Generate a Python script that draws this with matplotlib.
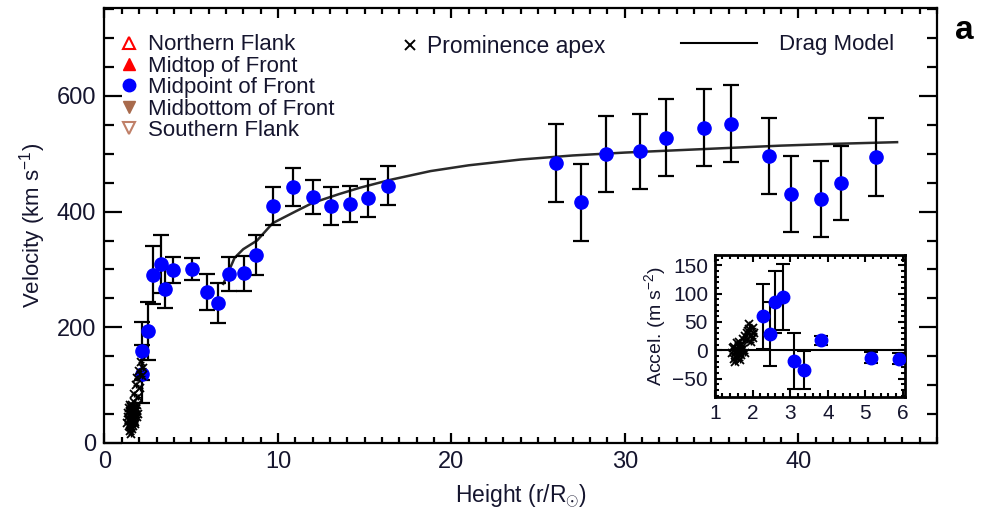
import numpy as np
import matplotlib
matplotlib.use('Agg')
import matplotlib.pyplot as plt
from matplotlib.lines import Line2D
from matplotlib.ticker import MultipleLocator

plt.rcParams['font.family'] = ['Liberation Sans', 'DejaVu Sans']
plt.rcParams['mathtext.fontset'] = 'custom'
plt.rcParams['mathtext.rm'] = 'Liberation Sans'
plt.rcParams['mathtext.it'] = 'Liberation Sans'

TXT = '#15152e'

# midpoint of front: height (r/Rsun), velocity (km/s), error
mid_h = [2.14, 2.14, 2.52, 2.81, 3.24, 3.49, 3.93, 5.06, 5.89, 6.52, 7.19, 8.06, 8.73,
         9.73, 10.85, 12.0, 13.05, 14.15, 15.17, 16.36,
         26.06, 27.45, 28.94, 30.9, 32.4, 34.57, 36.15, 38.32, 39.6, 41.34, 42.49, 44.47]
mid_v = [119, 159, 194, 290, 310, 267, 299, 300, 261, 242, 292, 293, 325,
         410, 442, 425, 410, 413, 423, 445,
         484, 416, 499, 504, 528, 545, 552, 496, 430, 422, 449, 494]
mid_err = [50, 50, 50, 50, 50, 33, 22, 19, 31, 34, 30, 30, 34,
           33, 33, 30, 33, 31, 33, 34,
           67, 67, 66, 65, 67, 67, 67, 66, 66, 66, 64, 67]

# prominence apex
apex_h = [1.35, 1.4, 1.45, 1.5, 1.55, 1.6, 1.62, 1.68, 1.7, 1.75, 1.8, 1.5, 1.85, 1.9,
          1.42, 1.58, 1.38, 1.48, 1.52, 1.65, 1.72, 1.78, 1.44, 1.56, 1.66, 1.82,
          1.3, 1.46, 1.6, 1.74, 1.92, 1.54,
          1.7, 1.8, 1.9, 2.0, 2.05, 2.1, 2.2, 1.95, 2.15]
apex_v = [45, 30, 55, 38, 62, 25, 50, 40, 70, 32, 55, 20, 45, 65,
          60, 35, 52, 28, 48, 58, 44, 36, 40, 66, 30, 60,
          35, 65, 42, 55, 50, 15,
          85, 100, 112, 125, 95, 140, 130, 80, 115]

# drag model curve
drag_h = [6.85, 7.5, 8.0, 8.8, 9.7, 11.0, 12.0, 13.5, 14.7, 16.5, 18.8, 21, 24, 27,
          30, 33, 36, 39, 42, 45.7]
drag_v = [275, 320, 335, 350, 380, 400, 415, 430, 441, 455, 470, 480, 490, 497,
          502, 506, 510, 514, 517, 520]

# inset: acceleration (m/s^2)
acc_h = [2.29, 2.46, 2.60, 2.81, 3.10, 3.36, 3.83, 5.14, 5.89]
acc_a = [60, 29, 85, 94, -19, -35, 18, -13, -15]
acc_err = [57, 57, 55, 59, 50, 33, 8, 10, 10]
apex_acc_h = [1.45, 1.5, 1.55, 1.6, 1.65, 1.7, 1.75, 1.5, 1.6, 1.7, 1.8,
              1.52, 1.58, 1.62, 1.68, 1.48, 1.56, 1.66, 1.72, 1.64,
              1.75, 1.85, 1.9, 1.95, 2.0, 2.05, 1.85, 1.95, 1.8, 1.9, 2.0, 1.88]
apex_acc_a = [-5, 5, -12, 0, 8, -8, 2, -15, -2, 10, -5,
              -20, 12, -10, 0, 4, -4, -18, 6, 14,
              20, 30, 38, 25, 40, 30, 18, 15, 26, 46, 22, 34]

fig = plt.figure(figsize=(9.81, 5.13), dpi=100)
ax = fig.add_axes([0.1065, 0.1365, 0.8486, 0.848])

ax.plot(drag_h, drag_v, '-', color='#2a2a2a', lw=1.8, zorder=2)
ax.errorbar(mid_h, mid_v, yerr=mid_err, fmt='none', ecolor='black', elinewidth=1.6,
            capsize=6, capthick=1.6, zorder=3)
ax.plot(mid_h, mid_v, 'o', color='blue', ms=9.5, mec='blue', zorder=4)
ax.plot(apex_h, apex_v, 'x', color='black', ms=5.5, mew=1.3, zorder=5)
ax.plot(apex_h, apex_v, '+', color='black', ms=5, mew=1.0, zorder=5)

ax.set_xlim(0, 48)
ax.set_ylim(0, 752)
ax.xaxis.set_major_locator(MultipleLocator(10))
ax.xaxis.set_minor_locator(MultipleLocator(1))
ax.yaxis.set_major_locator(MultipleLocator(200))
ax.yaxis.set_minor_locator(MultipleLocator(50))
ax.tick_params(which='both', direction='in', top=True, right=True, width=1.6,
               labelsize=17, labelcolor=TXT, pad=6)
ax.tick_params(axis='x', which='major', length=7)
ax.tick_params(axis='x', which='minor', length=4.5)
ax.tick_params(axis='y', which='major', length=13)
ax.tick_params(axis='y', which='minor', length=7.5)
for s in ax.spines.values():
    s.set_linewidth(1.6)

ax.set_xlabel(r'Height (r/R$_{\odot}$)', fontsize=16.5, color=TXT, labelpad=6)
ax.set_ylabel(r'Velocity (km s$^{-1}$)', fontsize=16, color=TXT, labelpad=6)

# legends
left_handles = [
    Line2D([], [], ls='none', marker='^', ms=8, mfc='none', mec='red', mew=1.5),
    Line2D([], [], ls='none', marker='^', ms=8, color='red'),
    Line2D([], [], ls='none', marker='o', ms=9, color='blue'),
    Line2D([], [], ls='none', marker='v', ms=8, color='#a86a4c'),
    Line2D([], [], ls='none', marker='v', ms=8, mfc='none', mec='#c08068', mew=1.5),
]
left_labels = ['Northern Flank', 'Midtop of Front', 'Midpoint of Front',
               'Midbottom of Front', 'Southern Flank']
leg1 = ax.legend(left_handles, left_labels, loc='upper left', bbox_to_anchor=(0.0, 0.975),
                 frameon=False, fontsize=16, handlelength=0.8, handletextpad=0.45,
                 labelspacing=0.02, borderaxespad=0.3, labelcolor=TXT)
ax.add_artist(leg1)
leg2 = ax.legend([Line2D([], [], ls='none', marker='x', ms=7, mew=1.4, color='black')],
                 ['Prominence apex'], loc='upper left', bbox_to_anchor=(0.337, 0.975),
                 frameon=False, fontsize=16.5, handlelength=0.8, handletextpad=0.35,
                 borderaxespad=0.3, labelcolor=TXT)
ax.add_artist(leg2)
ax.legend([Line2D([], [], color='black', lw=1.5)], ['Drag Model'], loc='upper right',
          bbox_to_anchor=(0.967, 0.975), frameon=False, fontsize=16, handlelength=3.4,
          handletextpad=1.0, borderaxespad=0.3, labelcolor=TXT)

fig.text(0.983, 0.94, 'a', fontsize=24, fontweight='bold', color='black',
         ha='center', va='center')

# inset
ins = fig.add_axes([0.7288, 0.2267, 0.1937, 0.276])
ins.axhline(0, color='black', lw=1.5, zorder=1)
ins.errorbar(acc_h, acc_a, yerr=acc_err, fmt='none', ecolor='black', elinewidth=1.5,
             capsize=5, capthick=1.5, zorder=2)
ins.plot(acc_h, acc_a, 'o', color='blue', ms=9, zorder=3)
ins.plot(apex_acc_h, apex_acc_a, 'x', color='black', ms=5.5, mew=1.3, zorder=4)
ins.plot(apex_acc_h, apex_acc_a, '+', color='black', ms=5, mew=1.0, zorder=4)
ins.set_xlim(1, 6.05)
ins.set_ylim(-82, 168)
ins.xaxis.set_major_locator(MultipleLocator(1))
ins.xaxis.set_minor_locator(MultipleLocator(0.2))
ins.yaxis.set_major_locator(MultipleLocator(50))
ins.yaxis.set_minor_locator(MultipleLocator(10))
ins.tick_params(which='both', direction='in', top=True, right=True, width=1.5,
                labelsize=15, labelcolor=TXT, pad=5)
ins.tick_params(which='major', length=5)
ins.tick_params(which='minor', length=3)
for s in ins.spines.values():
    s.set_linewidth(2)
ins.set_ylabel(r'Accel. (m s$^{-2}$)', fontsize=14, color=TXT, labelpad=3)

fig.savefig('out.png', dpi=100)
